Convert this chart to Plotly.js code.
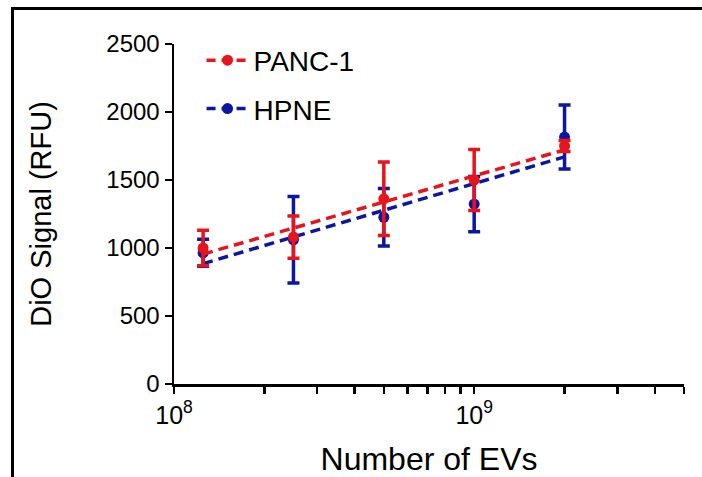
<!DOCTYPE html>
<html>
<head>
<meta charset="utf-8">
<script src="https://cdn.plot.ly/plotly-3.0.1.min.js"></script>
<style>
  html, body { margin: 0; padding: 0; background: #fff; }
  #wrap { position: relative; width: 702px; height: 477px; overflow: hidden; }
  #chart { position: absolute; left: 0; top: 0; width: 702px; height: 477px; }
  #frame { position: absolute; left: 11px; top: 7px; width: 702px; height: 480px;
           border-left: 3px solid #000; border-top: 3px solid #000; pointer-events: none; }
</style>
</head>
<body>
<div id="wrap"><div id="chart"></div><div id="frame"></div></div>
<script>
// ---- data ----
var evCounts = [1.25e8, 2.5e8, 5e8, 1e9, 2e9];
var pancMean = [1000, 1080, 1362, 1500, 1750];
var pancSD   = [130, 155, 270, 225, 40];
var hpneMean = [965, 1060, 1226, 1323, 1816];
var hpneSD   = [100, 318, 212, 203, 235];
var fitX     = [1.25e8, 2e9];
var pancFit  = [955, 1722];
var hpneFit  = [885, 1670];
var seriesNames = ['PANC-1', 'HPNE'];
var yTicks = [0, 500, 1000, 1500, 2000, 2500];
var xMajorVals = [1e8, 1e9];
var xMajorText = ['10<sup>8</sup>', '10<sup>9</sup>'];
var xMinorVals = [2e8, 3e8, 4e8, 5e8, 6e8, 7e8, 8e8, 9e8, 2e9, 3e9, 4e9, 5e9];

var RED = '#E8141C';
var BLUE = '#0B17A0';
var FONT = 'Liberation Sans, Arial, sans-serif';

function errTrace(y, sd, color) {
  return {
    x: evCounts, y: y, type: 'scatter', mode: 'markers', showlegend: false,
    marker: { color: color, size: 11 },
    error_y: { type: 'data', array: sd, visible: true, color: color, thickness: 3.5, width: 6 },
    hoverinfo: 'skip'
  };
}
function fitTrace(y, color) {
  return {
    x: fitX, y: y, type: 'scatter', mode: 'lines', showlegend: false,
    line: { color: color, width: 3.5, dash: '10px,6px' }, hoverinfo: 'skip'
  };
}
function legendTrace(name, color, grp) {
  return {
    x: [null], y: [null], type: 'scatter', mode: 'lines+markers', name: name, legendgroup: grp,
    line: { color: color, width: 3.5, dash: '9px,6px' }, marker: { color: color, size: 11 }
  };
}

var data = [
  fitTrace(hpneFit, BLUE),
  errTrace(hpneMean, hpneSD, BLUE),
  fitTrace(pancFit, RED),
  errTrace(pancMean, pancSD, RED),
  legendTrace(seriesNames[0], RED, 'a'),
  legendTrace(seriesNames[1], BLUE, 'b')
];

var layout = {
  width: 702, height: 477,
  margin: { l: 174, r: 18, t: 44, b: 93 },
  paper_bgcolor: '#fff', plot_bgcolor: '#fff',
  font: { family: FONT, color: '#000', size: 24 },
  showlegend: true,
  legend: {
    x: 0.054, y: 1.025, xanchor: 'left', yanchor: 'top',
    font: { family: FONT, size: 28, color: '#000' },
    itemwidth: 42,
    bgcolor: 'rgba(0,0,0,0)', tracegroupgap: 9, traceorder: 'grouped'
  },
  xaxis: {
    type: 'log', range: [8, Math.log10(5e9)],
    tickmode: 'array', tickvals: xMajorVals, ticktext: xMajorText,
    ticks: 'outside', ticklen: 7, tickwidth: 2.5, tickcolor: '#000',
    minor: { tickmode: 'array', tickvals: xMinorVals, ticks: 'outside', ticklen: 7, tickwidth: 2.5, tickcolor: '#000', showgrid: false },
    showline: true, linecolor: '#000', linewidth: 2.5,
    showgrid: false, zeroline: false,
    tickfont: { family: FONT, size: 25, color: '#000' },
    title: { text: 'Number of EVs', font: { family: FONT, size: 32, color: '#000' }, standoff: 20 }
  },
  yaxis: {
    range: [0, 2500], tickmode: 'array', tickvals: yTicks,
    ticks: 'outside', ticklen: 7, tickwidth: 2.5, tickcolor: '#000',
    showline: true, linecolor: '#000', linewidth: 2.5,
    showgrid: false, zeroline: false,
    tickfont: { family: FONT, size: 24, color: '#000' },
    title: { text: 'DiO Signal (RFU)', font: { family: FONT, size: 29, color: '#000' }, standoff: 46 }
  }
};

Plotly.newPlot('chart', data, layout, { staticPlot: true, displayModeBar: false });
</script>
</body>
</html>
